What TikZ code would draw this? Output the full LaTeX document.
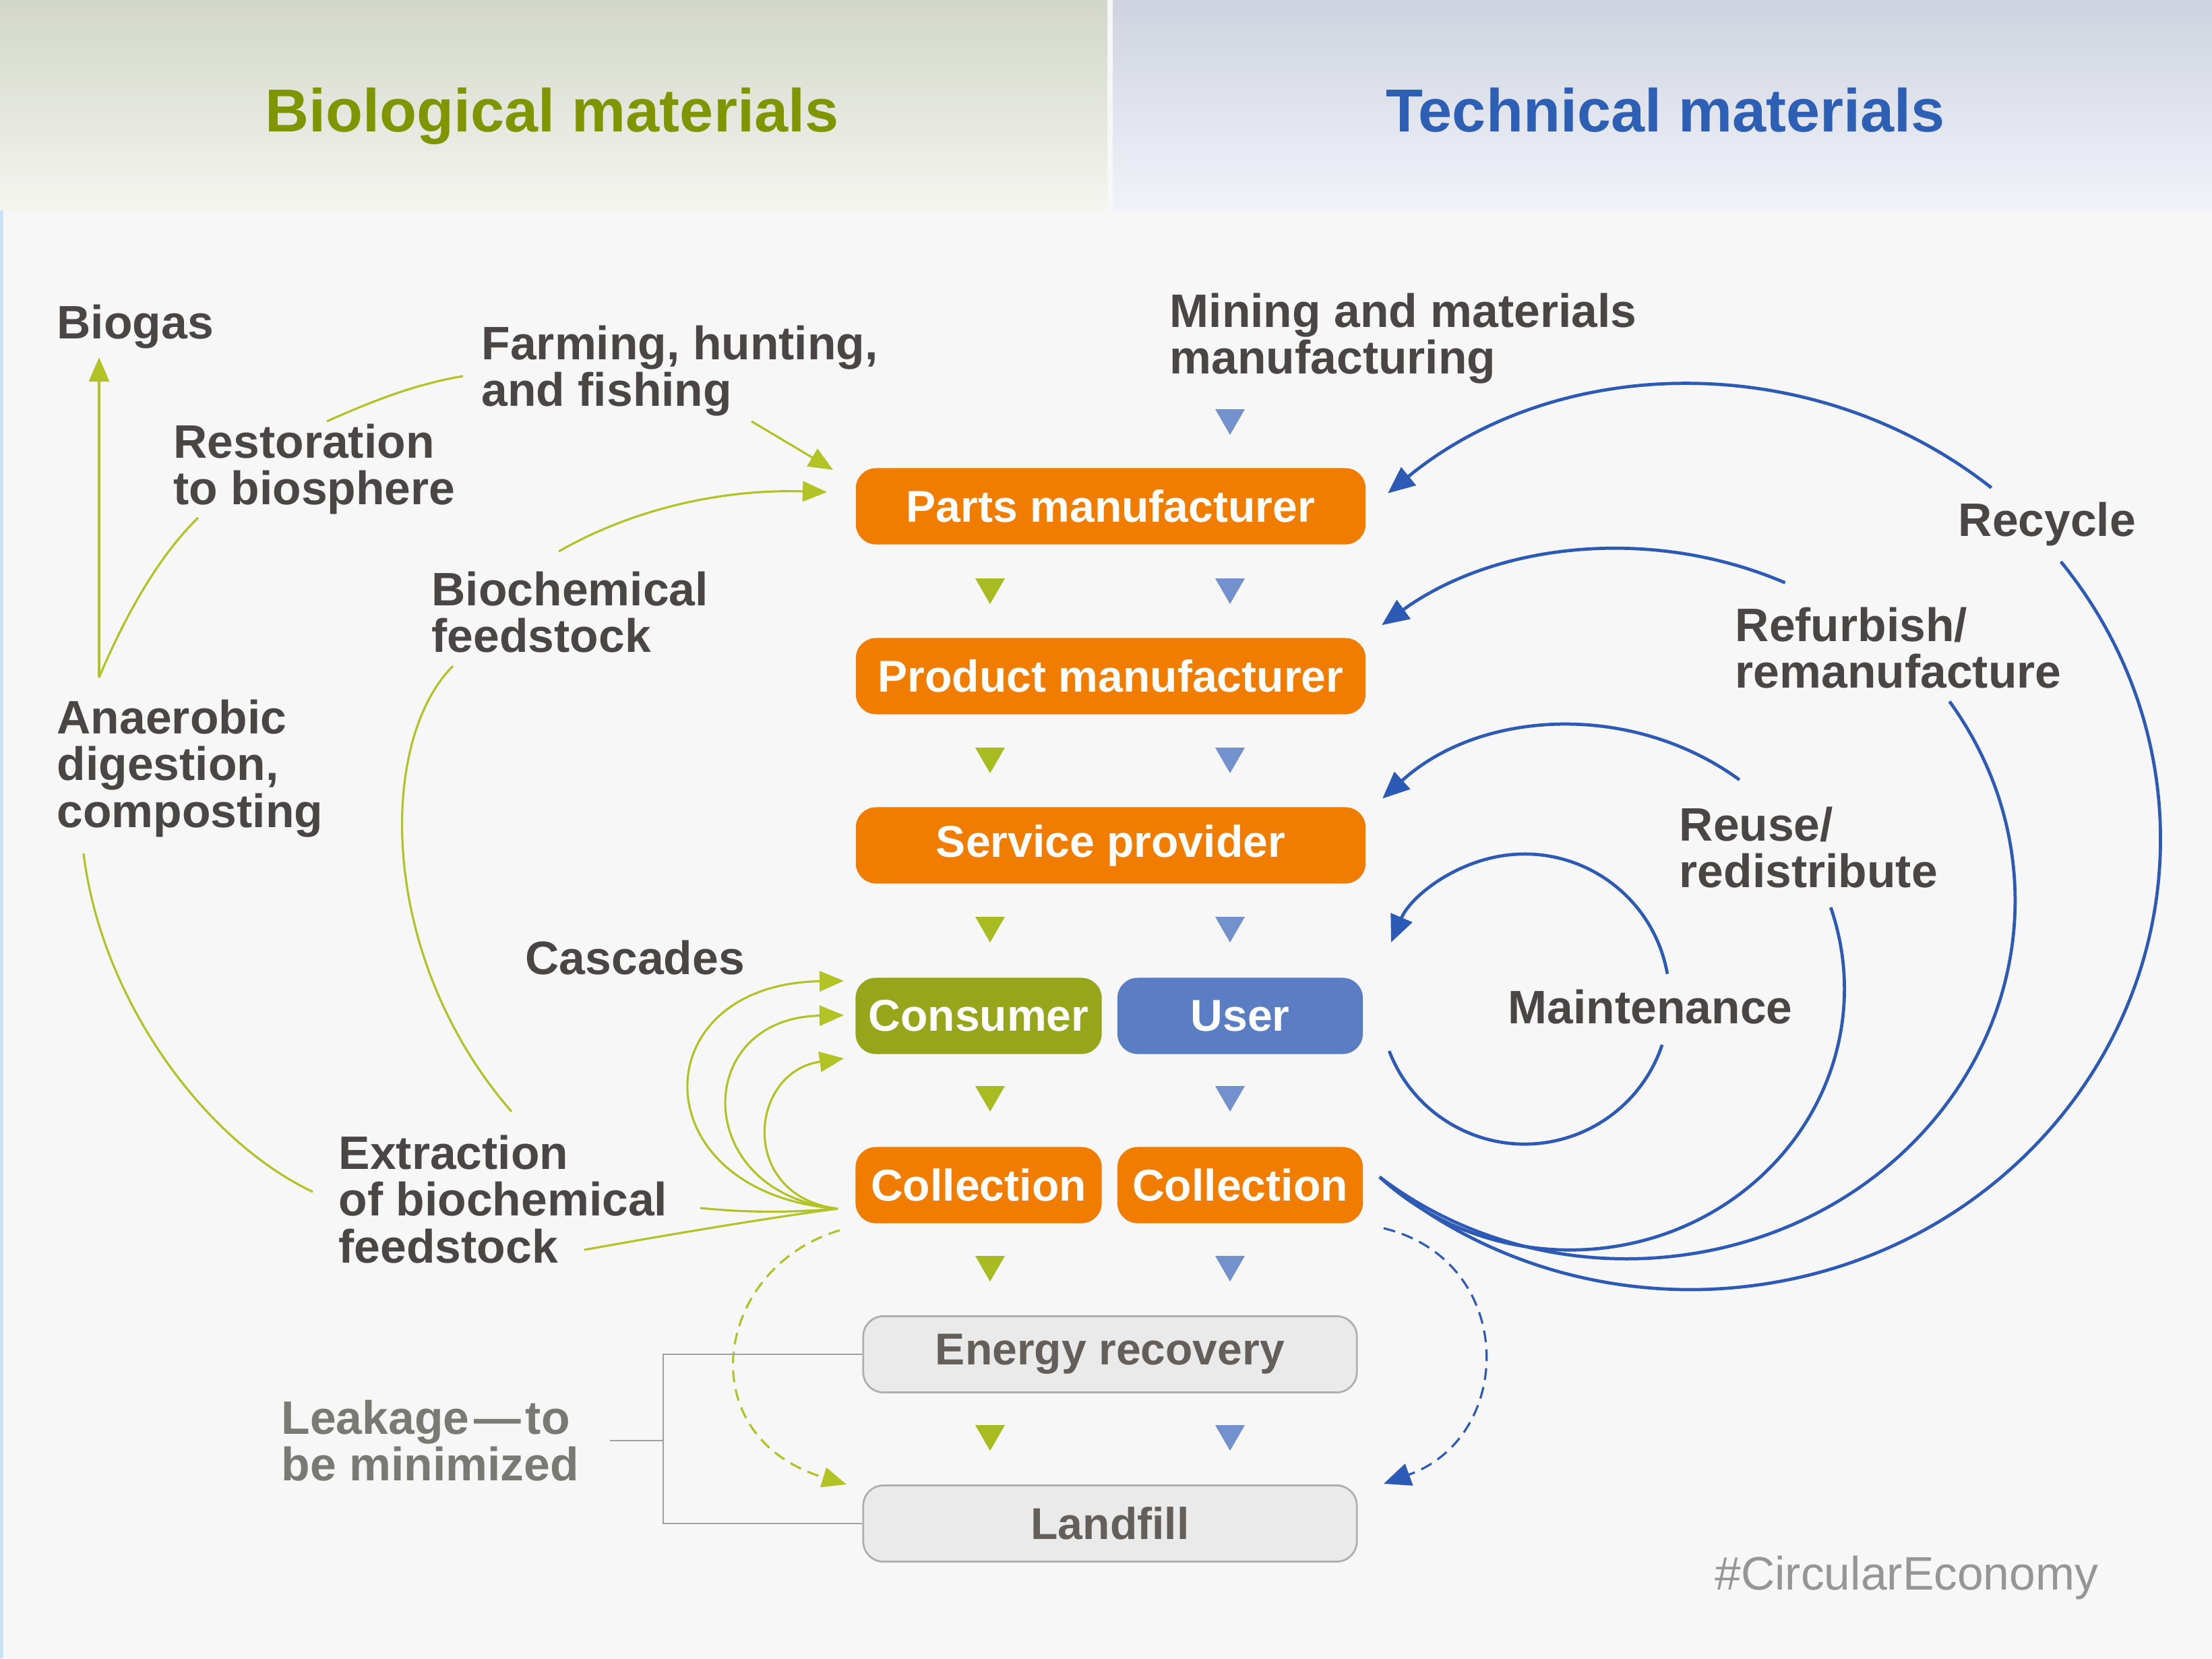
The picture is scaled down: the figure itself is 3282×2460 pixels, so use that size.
\documentclass[tikz,border=0pt]{standalone}
\usepackage{fontspec}
\setmainfont{Liberation Sans}
\usetikzlibrary{arrows.meta}
\definecolor{bgc}{RGB}{247,247,247}
\definecolor{hdgreenA}{RGB}{211,215,201}
\definecolor{hdgreenB}{RGB}{244,245,239}
\definecolor{hdblueA}{RGB}{207,211,223}
\definecolor{hdblueB}{RGB}{240,243,249}
\definecolor{edgecyan}{RGB}{200,228,243}
\definecolor{orng}{RGB}{240,125,0}
\definecolor{consgreen}{RGB}{150,165,25}
\definecolor{usrblue}{RGB}{90,125,195}
\definecolor{leafgreen}{RGB}{178,195,38}
\definecolor{tipgreen}{RGB}{168,188,34}
\definecolor{loopblue}{RGB}{45,90,180}
\definecolor{tipblue}{RGB}{115,145,205}
\definecolor{ink}{RGB}{75,70,70}
\definecolor{greyink}{RGB}{122,122,116}
\definecolor{titlegreen}{RGB}{128,150,0}
\definecolor{titleblue}{RGB}{45,95,180}
\definecolor{boxgrey}{RGB}{234,234,234}
\definecolor{edgegrey}{RGB}{175,175,175}
\definecolor{wasteink}{RGB}{100,95,90}
\definecolor{taggrey}{RGB}{150,150,150}
\definecolor{leakgrey}{RGB}{160,160,160}
\newcommand\lblfont{\fontsize{19.8}{19.8}\selectfont\bfseries}
\newcommand\stgfont{\fontsize{18.8}{19.8}\selectfont\bfseries}
\newcommand\ttlfont{\fontsize{25.6}{28}\selectfont\bfseries}

\begin{document}
\begin{tikzpicture}[x=0.01cm,y=-0.01cm,
  stage/.style={rounded corners=0.3cm,minimum height=1.13cm,inner sep=0pt,text=white,font=\stgfont},
  waste/.style={stage,fill=boxgrey,draw=edgegrey,line width=0.8pt,text=wasteink},
  lbl/.style={anchor=west,align=left,inner sep=0pt,text=ink,font=\lblfont},
  gline/.style={leafgreen,line width=0.9pt},
  bline/.style={loopblue,line width=1.35pt},
  gtip/.style={-{Triangle[length=0.36cm,width=0.3cm]}},
  btip/.style={-{Triangle[length=0.4cm,width=0.34cm]}},
  leakline/.style={leakgrey,line width=0.7pt}]
\useasboundingbox (0,0) rectangle (3282,2460);
\fill[bgc] (0,0) rectangle (3282,2460);
\shade[top color=hdgreenA,bottom color=hdgreenB] (0,0) rectangle (1643,312);
\shade[top color=hdblueA,bottom color=hdblueB] (1651,0) rectangle (3282,312);
\fill[edgecyan] (0,312) rectangle (5,2460);
\node[anchor=base,font=\ttlfont,text=titlegreen] (tbio) at (819,195) {Biological materials};
\node[anchor=base,font=\ttlfont,text=titleblue] (ttec) at (2471,195) {Technical materials};

\node[stage,fill=orng,minimum width=7.56cm] (pm) at (1648,751) {Parts manufacturer};
\node[stage,fill=orng,minimum width=7.56cm] (prm) at (1648,1003) {Product manufacturer};
\node[stage,fill=orng,minimum width=7.56cm] (sp) at (1648,1254) {Service provider};
\node[stage,fill=consgreen,minimum width=3.65cm] (con) at (1452,1507) {Consumer};
\node[stage,fill=usrblue,minimum width=3.64cm] (usr) at (1840,1507) {User};
\node[stage,fill=orng,minimum width=3.65cm] (colB) at (1452,1758) {Collection};
\node[stage,fill=orng,minimum width=3.64cm] (colT) at (1840,1758) {Collection};
\node[waste,minimum width=7.32cm] (er) at (1647,2009) {Energy recovery};
\node[waste,minimum width=7.32cm] (lf) at (1647,2260) {Landfill};

\foreach \ty in {877,1128,1379,1630,1882,2133}
  \fill[tipgreen] (1469,\ty) ++(-22,-19) -- ++(44,0) -- ++(-22,38) -- cycle;
\foreach \ty in {626,877,1128,1379,1630,1882,2133}
  \fill[tipblue] (1825,\ty) ++(-22,-19) -- ++(44,0) -- ++(-22,38) -- cycle;

\node[lbl] (bio) at (84,485) {Biogas};
\node[lbl] (farm) at (714,550) {Farming, hunting,\\and fishing};
\node[lbl] (rest) at (257,696) {Restoration\\to biosphere};
\node[lbl] (biof) at (640,908) {Biochemical\\feedstock};
\node[lbl] (anae) at (84,1140) {Anaerobic\\digestion,\\composting};
\node[lbl] (casc) at (779,1421) {Cascades};
\node[lbl] (extr) at (502,1779) {Extraction\\of biochemical\\feedstock};
\node[lbl,text=greyink] (leak) at (417,2137) {Leakage\kern0.1em—\kern0.1em to\\be minimized};
\node[lbl] (mine) at (1735,502) {Mining and materials\\manufacturing};
\node[lbl] (recy) at (2905,777) {Recycle};
\node[lbl] (refu) at (2574,961) {Refurbish/\\remanufacture};
\node[lbl] (reus) at (2491,1257) {Reuse/\\redistribute};
\node[lbl] (main) at (2237,1494) {Maintenance};
\node[anchor=east,inner sep=0pt,text=taggrey,font=\fontsize{19.8}{20}\selectfont] (tag) at (3114,2340) {\#CircularEconomy};

\coordinate (anTop) at (147,1005);
\coordinate (bgTip) at (147,530);
\coordinate (rsLow) at (294,768);
\coordinate (rsUp) at (485,625);
\coordinate (fmIn) at (687,558);
\coordinate (fmOut) at (1115,625);
\coordinate (fmTip) at (1236,697);
\coordinate (bfOut) at (829,818);
\coordinate (bfTip) at (1227,730);
\coordinate (bfLow) at (672,988);
\coordinate (exTop) at (759,1649);
\coordinate (anLow) at (124,1266);
\coordinate (exLeft) at (464,1768);
\coordinate (exA) at (1039,1792);
\coordinate (exB) at (867,1854);
\coordinate (fan) at (1243,1793);
\coordinate (cs1) at (1252,1455);
\coordinate (cs2) at (1252,1506);
\coordinate (cs3) at (1252,1570);
\coordinate (lkG) at (1246,1825);
\coordinate (lkGtip) at (1256,2202);
\coordinate (brk) at (984,2137);
\draw[gline,gtip] (anTop) -- (bgTip);
\draw[gline] (anTop) .. controls (185,915) and (235,825) .. (rsLow);
\draw[gline] (rsUp) .. controls (550,596) and (615,570) .. (fmIn);
\draw[gline,gtip] (fmOut) -- (fmTip);
\draw[gline,gtip] (bfOut) .. controls (930,760) and (1060,725) .. (bfTip);
\draw[gline] (bfLow) .. controls (560,1100) and (560,1420) .. (exTop);
\draw[gline] (anLow) .. controls (150,1480) and (300,1690) .. (exLeft);
\draw[gline,gtip] (fan) .. controls (950,1770) and (950,1460) .. (cs1);
\draw[gline,gtip] (fan) .. controls (1025,1770) and (1025,1510) .. (cs2);
\draw[gline,gtip] (fan) .. controls (1095,1775) and (1110,1590) .. (cs3);
\draw[gline] (exA) .. controls (1120,1800) and (1180,1798) .. (fan);
\draw[gline] (exB) .. controls (1000,1830) and (1150,1805) .. (fan);
\draw[gline,dash pattern=on 5pt off 3pt,gtip] (lkG) .. controls (1060,1880) and (1020,2130) .. (lkGtip);
\draw[leakline] (er.west) -| (brk) |- (lf.west);
\draw[leakline] ([xshift=0.45cm]leak.east) -- (leak.east -| brk);

\coordinate (tS) at (2047,1746);
\coordinate (rcC) at (2512,1240);
\coordinate (rfC) at (2405,1346);
\coordinate (ruC) at (2333,1464);
\coordinate (mtC) at (2262,1482);
\path (rcC) ++(50.6:6.97cm and 6.68cm) coordinate (rcA);
\path (rfC) ++(65:5.76cm and 5.31cm) coordinate (rfA);
\path (ruC) ++(52.5:4.07cm and 3.87cm) coordinate (ruA);
\path (mtC) ++(201:2.15cm) coordinate (mtS);
\path (mtC) ++(10:2.15cm) coordinate (mtA);
\draw[bline] (tS) arc[start angle=228.6,end angle=398,x radius=6.97cm,y radius=6.68cm];
\draw[bline,btip] (rcA) arc[start angle=50.6,end angle=130.5,x radius=6.97cm,y radius=6.68cm];
\draw[bline] (tS) arc[start angle=230.5,end angle=393.8,x radius=5.76cm,y radius=5.31cm];
\draw[bline,btip] (rfA) arc[start angle=65,end angle=128,x radius=5.76cm,y radius=5.31cm];
\draw[bline] (tS) arc[start angle=226.1,end angle=378.2,x radius=4.07cm,y radius=3.87cm];
\draw[bline,btip] (ruA) arc[start angle=52.5,end angle=133.8,x radius=4.07cm,y radius=3.87cm];
\draw[bline] (mtS) arc[start angle=201,end angle=341.6,radius=2.15cm];
\draw[bline,btip] (mtA) arc[start angle=10,end angle=157,radius=2.15cm];
\coordinate (lkT) at (2053,1822);
\coordinate (lkTtip) at (2053,2201);
\draw[bline,line width=0.9pt,dash pattern=on 5pt off 3pt,btip] (lkT) .. controls (2250,1870) and (2250,2130) .. (lkTtip);
\end{tikzpicture}
\end{document}
